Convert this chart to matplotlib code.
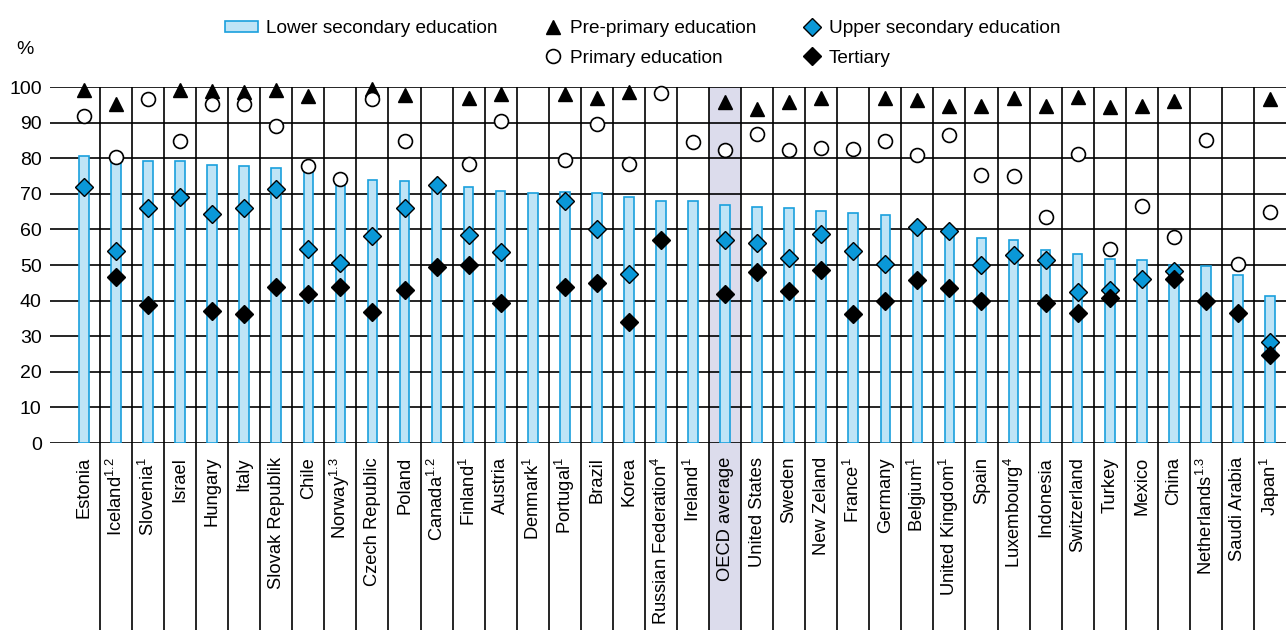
import matplotlib
matplotlib.use("Agg")
import matplotlib.pyplot as plt
import numpy as np
from matplotlib.lines import Line2D
from matplotlib.patches import Rectangle
import matplotlib.transforms as mtransforms

plt.rcParams['mathtext.fontset'] = 'custom'
plt.rcParams['mathtext.rm'] = 'Liberation Sans'
plt.rcParams['mathtext.it'] = 'Liberation Sans'
plt.rcParams['mathtext.bf'] = 'Liberation Sans'

countries = ["Estonia", "Iceland$^{1.2}$", "Slovenia$^{1}$", "Israel", "Hungary", "Italy",
             "Slovak Republik", "Chile", "Norway$^{1.3}$", "Czech Republic", "Poland",
             "Canada$^{1.2}$", "Finland$^{1}$", "Austria", "Denmark$^{1}$", "Portugal$^{1}$",
             "Brazil", "Korea", "Russian Federation$^{4}$", "Ireland$^{1}$", "OECD average",
             "United States", "Sweden", "New Zeland", "France$^{1}$", "Germany", "Belgium$^{1}$",
             "United Kingdom$^{1}$", "Spain", "Luxembourg$^{4}$", "Indonesia", "Switzerland",
             "Turkey", "Mexico", "China", "Netherlands$^{1.3}$", "Saudi Arabia", "Japan$^{1}$"]

nan = np.nan
lower_secondary = [80.6, 79.5, 79.1, 79.1, 78.1, 77.8, 77.2, 76.5, 73.5, 73.9, 73.6,
                   72.3, 71.9, 70.8, 70.2, 70.4, 70.2, 69.1, 67.9, 67.9, 66.9,
                   66.3, 65.9, 65.2, 64.6, 64.1, 60.8, 59.6, 57.5, 56.9, 54.1, 53.0,
                   51.7, 51.3, 50.1, 49.6, 47.1, 41.3]
pre_primary = [99.1, 95.3, nan, 99.1, 99.0, 98.6, 99.2, 97.4, nan, 99.5, 97.7,
               nan, 97.0, 98.1, nan, 97.9, 97.0, 98.6, nan, nan, 95.8,
               93.7, 95.8, 96.9, nan, 97.0, 96.4, 94.6, 94.6, 96.8, 94.6, 97.2,
               94.4, 94.6, 96.1, nan, nan, 96.7]
primary = [91.9, 80.3, 96.6, 84.8, 95.3, 95.2, 89.1, 77.7, 74.2, 96.6, 84.8,
           nan, 78.4, 90.4, nan, 79.4, 89.7, 78.4, 98.3, 84.5, 82.2,
           86.9, 82.4, 82.9, 82.5, 84.8, 80.8, 86.6, 75.4, 75.1, 63.4, 81.2,
           54.5, 66.5, 58.0, 85.0, 50.3, 64.9]
upper_secondary = [71.9, 53.9, 66.1, 69.1, 64.4, 66.1, 71.4, 54.5, 50.5, 58.2, 66.1,
                   72.5, 58.5, 53.7, nan, 67.9, 60.0, 47.6, nan, nan, 57.1,
                   56.3, 51.9, 58.8, 54.0, 50.3, 60.6, 59.5, 50.0, 52.7, 51.5, 42.5,
                   43.0, 46.1, 48.3, nan, nan, 28.5]
tertiary = [nan, 46.5, 38.8, nan, 37.2, 36.1, 43.8, 41.9, 43.8, 36.7, 43.1,
            49.4, 49.9, 39.3, nan, 43.8, 44.9, 33.9, 57.1, nan, 41.9,
            48.1, 42.8, 48.6, 36.3, 40.0, 45.8, 43.5, 39.8, nan, 39.4, 36.6,
            40.7, nan, 46.1, 39.8, 36.6, 24.8]
yticks = list(range(0, 101, 10))
highlight = "OECD average"

W, H = 1287, 630
fig = plt.figure(figsize=(W / 100, H / 100), dpi=100)
ax = fig.add_axes([50 / W, (H - 443) / H, (1286 - 50) / W, (443 - 87) / H])

n = len(countries)
x = np.arange(n)
ax.set_xlim(-1.06, n - 0.5)
ax.set_ylim(0, 100)

narrow = ['Liberation Sans Narrow', 'Liberation Sans', 'DejaVu Sans']
regular = ['Liberation Sans', 'DejaVu Sans']

# horizontal gridlines
for t in yticks:
    ax.axhline(t, color='black', lw=1.2, zorder=1)

# OECD highlight
hi = countries.index(highlight)
trans = mtransforms.blended_transform_factory(ax.transData, ax.transAxes)
ax.add_patch(Rectangle((hi - 0.5, -0.53), 1.0, 1.53, transform=trans,
                       facecolor='#dcdcec', edgecolor='none', zorder=0, clip_on=False))

# vertical separators extending into label area
ax.vlines(x[:-1] + 0.5, -0.53, 1.0, transform=trans, colors='black', lw=1.2,
          zorder=1, clip_on=False)

ax.bar(x, lower_secondary, width=0.3, color='#bfe4f6', edgecolor='#1aa0dd',
       linewidth=1.2, zorder=2)
ax.plot(x, pre_primary, linestyle='none', marker='^', markersize=10,
        color='black', zorder=4, clip_on=False)
ax.plot(x, primary, linestyle='none', marker='o', markersize=10,
        markerfacecolor='white', markeredgecolor='black', markeredgewidth=1.2,
        zorder=4, clip_on=False)
ax.plot(x, upper_secondary, linestyle='none', marker='D', markersize=9.3,
        markerfacecolor='#0a98d8', markeredgecolor='black', markeredgewidth=1.0,
        zorder=5, clip_on=False)
ax.plot(x, tertiary, linestyle='none', marker='D', markersize=9.3,
        markerfacecolor='black', markeredgecolor='black', zorder=6, clip_on=False)

for s in ax.spines.values():
    s.set_visible(False)

ax.set_yticks(yticks)
ax.set_yticklabels([str(t) for t in yticks], family=narrow, fontsize=14)
ax.tick_params(axis='y', length=0, pad=6)
ax.set_xticks(x)
ax.set_xticklabels(countries, rotation=90, family=regular, fontsize=13.2,
                   va='top', ha='center')
ax.tick_params(axis='x', length=0, pad=10)

fig.text(25 / W, 1 - 50 / H, "%", family=narrow, fontsize=14, ha='center', va='center')

# legends
h_bar = Rectangle((0, 0), 1, 1, facecolor='#bfe4f6', edgecolor='#1aa0dd', linewidth=1.2)
h_tri = Line2D([], [], linestyle='none', marker='^', markersize=10, color='black')
h_cir = Line2D([], [], linestyle='none', marker='o', markersize=10,
               markerfacecolor='white', markeredgecolor='black', markeredgewidth=1.2)
h_up = Line2D([], [], linestyle='none', marker='D', markersize=9.3,
              markerfacecolor='#0a98d8', markeredgecolor='black')
h_ter = Line2D([], [], linestyle='none', marker='D', markersize=9.3,
               markerfacecolor='black', markeredgecolor='black')

fs_leg = 13.7
legkw = dict(frameon=False, prop={'family': narrow, 'size': fs_leg}, borderpad=0,
             borderaxespad=0, labelspacing=0.65, handletextpad=0.4, loc='upper left')
top = 1 - 20 / H
l1 = fig.legend([h_bar], ["Lower secondary education"], bbox_to_anchor=(225 / W, top),
                handlelength=1.75, handleheight=0.55, **legkw)
l2 = fig.legend([h_tri, h_cir], ["Pre-primary education", "Primary education"],
                bbox_to_anchor=(543 / W, top), handlelength=1.0, **legkw)
l3 = fig.legend([h_up, h_ter], ["Upper secondary education", "Tertiary"],
                bbox_to_anchor=(802 / W, top), handlelength=1.0, **legkw)

fig.savefig("out.png", dpi=100)
